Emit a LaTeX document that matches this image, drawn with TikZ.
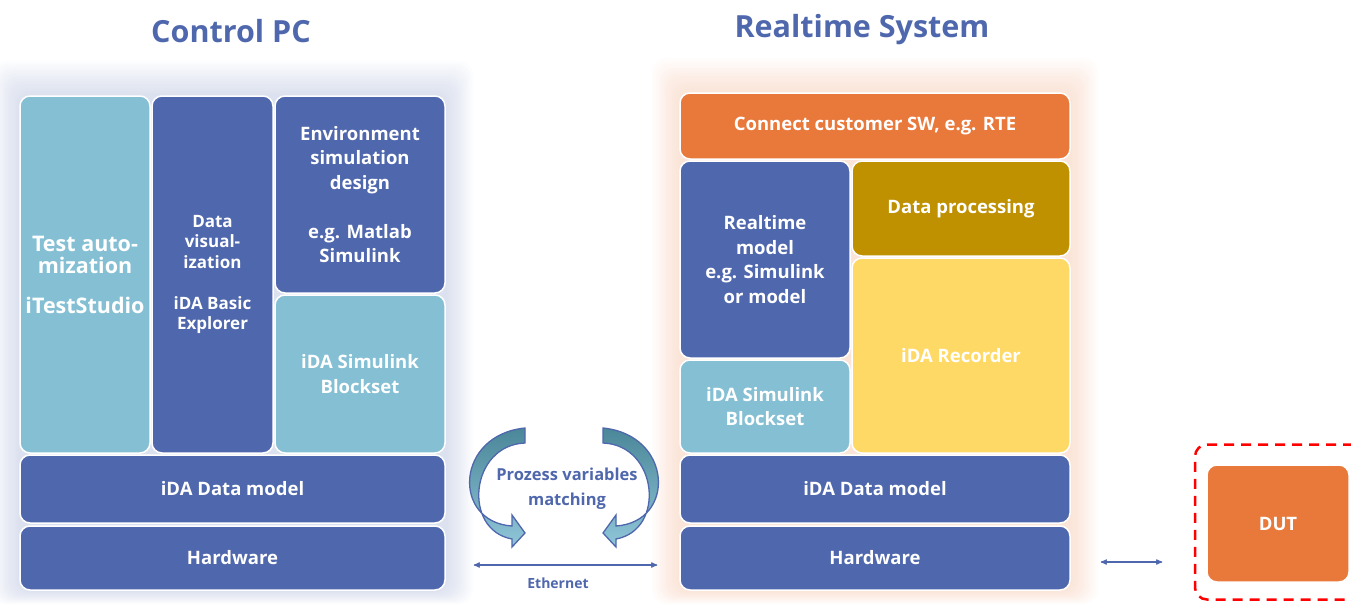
\documentclass[tikz,border=0pt]{standalone}
\usepackage{fontspec}
\setmainfont{Open Sans}
\usetikzlibrary{arrows}
\definecolor{bleuifa}{HTML}{4F67AC}
\definecolor{clairifa}{HTML}{84BFD4}
\definecolor{orangeifa}{HTML}{E9783B}
\definecolor{orifa}{HTML}{BF9000}
\definecolor{jauneifa}{HTML}{FFD966}
\definecolor{sarcelle}{HTML}{4A8798}
\begin{document}
\begin{tikzpicture}[x=1pt,y=-1pt]
% Styles
 \tikzstyle{bloc}=[rectangle,rounded corners=10pt,draw=white,line width=1.5pt,text=white,
   align=center,inner sep=0pt,font=\fontsize{18.5}{24.5}\selectfont\bfseries]
 \tikzstyle{fonce}=[bloc,fill=bleuifa]
 \tikzstyle{clair}=[bloc,fill=clairifa]
 \tikzstyle{titre}=[text=bleuifa,font=\fontsize{30.5}{34}\selectfont\bfseries]
 \tikzstyle{lien}=[<->,>=stealth',draw=bleuifa,line width=1.2pt]
 \tikzstyle{courbe}=[draw=bleuifa,line width=1.3pt,top color=sarcelle,bottom color=clairifa!90]
 \useasboundingbox (0,0) rectangle (1351,605);
% Halos
 \foreach \i in {1,...,14}
   \fill[bleuifa,opacity=0.016,rounded corners=14pt] (20-\i*2,96-\i*2.5) rectangle (445+\i*2,590+\i*1);
 \foreach \i in {1,...,14}
   \fill[orangeifa,opacity=0.016,rounded corners=14pt] (680-\i*2,93-\i*2.5) rectangle (1070+\i*2,590+\i*1);
% Titres
 \node[titre] (pc) at (231,31) {Control PC};
 \node[titre] (rts) at (862,30) {Realtime System};
% Control PC
 \node[clair,minimum width=130pt,minimum height=357pt,font=\fontsize{21.5}{22}\selectfont\bfseries]
   (test) at (85,274.5) {Test auto-\\mization\\[18pt]iTestStudio};
 \node[fonce,minimum width=121pt,minimum height=357pt,font=\fontsize{17}{20.5}\selectfont\bfseries]
   (visu) at (212.5,274.5) {Data\\visual-\\ization\\[20.5pt]iDA Basic\\Explorer};
 \node[fonce,minimum width=170pt,minimum height=197pt] (env) at (360,194.5)
   {Environment\\simulation\\design\\[24.5pt]e.g. Matlab\\Simulink};
 \node[clair,minimum width=170pt,minimum height=158pt] (blockg) at (360,374) {iDA Simulink\\Blockset};
 \node[fonce,minimum width=425pt,minimum height=68pt] (modeleg) at (232.5,489) {iDA Data model};
 \node[fonce,minimum width=425pt,minimum height=64pt] (hwg) at (232.5,558) {Hardware};
% Realtime System
 \node[bloc,fill=orangeifa,minimum width=390pt,minimum height=66pt] (connect) at (875,126)
   {Connect customer SW, e.g. RTE};
 \node[fonce,minimum width=170pt,minimum height=197pt] (rtmodel) at (765,259.5)
   {Realtime\\model\\e.g. Simulink\\or model};
 \node[clair,minimum width=170pt,minimum height=93pt] (blockd) at (765,406.5) {iDA Simulink\\Blockset};
 \node[bloc,fill=orifa,minimum width=218pt,minimum height=95pt] (proc) at (961,208.5) {Data processing};
 \node[bloc,fill=jauneifa,minimum width=218pt,minimum height=195pt] (rec) at (961,355.5) {iDA Recorder};
 \node[fonce,minimum width=390pt,minimum height=68pt] (modeled) at (875,489) {iDA Data model};
 \node[fonce,minimum width=390pt,minimum height=64pt] (hwd) at (875,558) {Hardware};
% DUT
 \node[draw=red,dashed,line width=2.5pt,rounded corners=12pt,dash pattern=on 10pt off 7pt,
   minimum width=170pt,minimum height=155pt] (cadre) at (1280,522) {};
 \node[bloc,fill=orangeifa,minimum width=142pt,minimum height=117pt] (dut) at (1278,523.5) {DUT};
% Fleches courbes
 \draw[courbe] (525,428) .. controls (455,435) and (452,522) .. (512,526) -- (512,515)
   -- (525,533) -- (512,547) -- (512,539) .. controls (462,530) and (470,445) .. (525,443) -- cycle;
 \draw[courbe] (603,428) .. controls (673,435) and (676,522) .. (616,526) -- (616,515)
   -- (603,533) -- (616,547) -- (616,539) .. controls (666,530) and (658,445) .. (603,443) -- cycle;
 \node[text=bleuifa,align=center,font=\fontsize{16.5}{25}\selectfont\bfseries] (proz) at (567,489)
   {Prozess variables\\matching};
% Liaisons
 \draw[lien] ([xshift=28pt,yshift=-7pt]hwg.east) -- ([xshift=-22pt,yshift=-7pt]hwd.west);
 \node[text=bleuifa,font=\fontsize{14}{16}\selectfont\bfseries] (eth) at (558,583) {Ethernet};
 \draw[lien] ([xshift=30pt,yshift=-4pt]hwd.east) -- ([xshift=-44pt,yshift=-4pt]hwd.east -| dut.west);
\end{tikzpicture}
\end{document}
